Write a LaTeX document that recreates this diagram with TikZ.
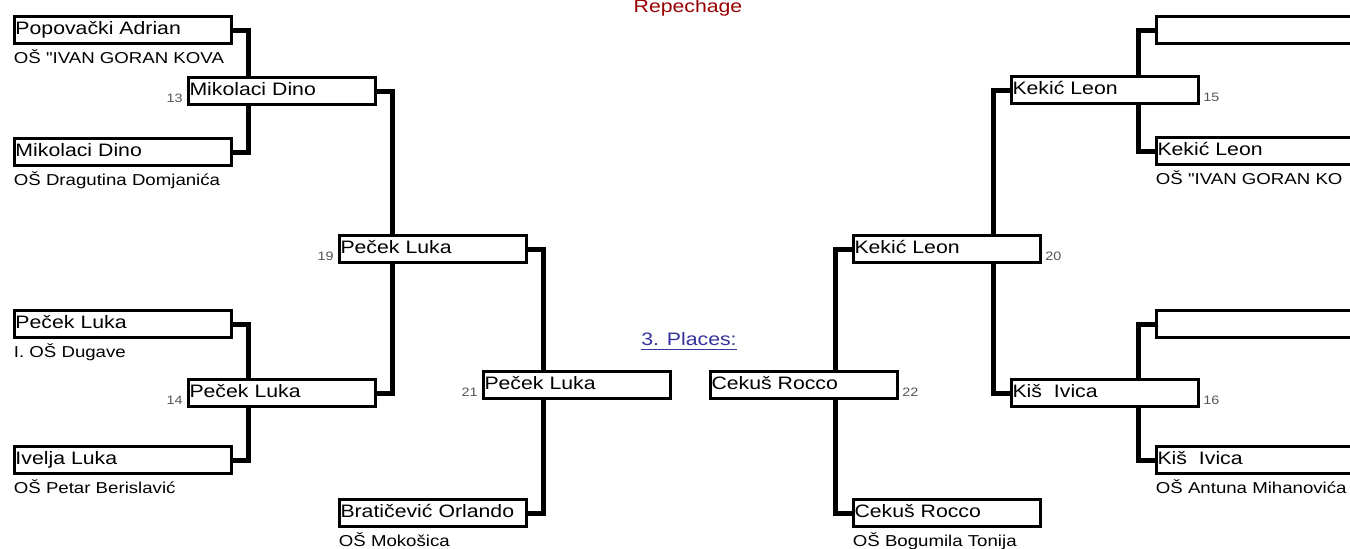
\documentclass[tikz,border=0pt]{standalone}
\usepackage{fontspec}
\setmainfont{Liberation Sans}[FakeStretch=1.18, Ligatures=TeXOff]
\usetikzlibrary{backgrounds}
\definecolor{numgray}{RGB}{85,85,85}
\definecolor{repred}{RGB}{153,0,0}
\definecolor{placeblue}{RGB}{51,51,153}
\tikzset{
	player/.style = {draw, rectangle, line width=1.5pt, fill=white, anchor=north west, inner xsep=0.75pt, inner ysep=0pt, text height=8.75pt, text depth=4.75pt, align=left, font=\fontsize{9}{10}\selectfont},
	wide/.style = {player, text width=107pt},
	narrow/.style = {player, text width=92pt},
	school/.style = {anchor=base west, inner sep=0pt, font=\fontsize{7.9}{9}\selectfont},
	numl/.style = {anchor=base east, inner sep=0pt, text=numgray, font=\fontsize{6.1}{7}\selectfont},
	numr/.style = {anchor=base west, inner sep=0pt, text=numgray, font=\fontsize{6.1}{7}\selectfont},
	link/.style = {line width=2.5pt}
}
\begin{document}
\begin{tikzpicture}[x=0.5pt, y=-0.5pt]
	\useasboundingbox (0,0) rectangle (1350,549);
	\node [anchor=base, inner sep=0pt, text=repred, font=\fontsize{9}{10}\selectfont] (rep) at (688,12.5) {Repechage};
	\node [anchor=base west, inner sep=0pt, text=placeblue, font=\fontsize{9}{10}\selectfont] (places) at (641,346) {\underline{3. Places:}};
	\node [wide] (p1) at (12.5,15.5) {Popovački Adrian};
	\node [wide] (p2) at (12.5,137.5) {Mikolaci Dino};
	\node [wide] (p3) at (12.5,309.5) {Peček Luka};
	\node [wide] (p4) at (12.5,445.5) {Ivelja Luka};
	\node [narrow] (m13) at (186.5,76.5) {Mikolaci Dino};
	\node [narrow] (m14) at (186.5,378.5) {Peček Luka};
	\node [narrow] (m19) at (337.5,234.5) {Peček Luka};
	\node [narrow] (bra) at (337.5,498.5) {Bratičević Orlando};
	\node [narrow] (m21) at (481.5,370.5) {Peček Luka};
	\node [narrow] (m22) at (708.5,370.5) {Cekuš Rocco};
	\node [narrow] (m20) at (851.5,234.5) {Kekić Leon};
	\node [narrow] (cek) at (851.5,498.5) {Cekuš Rocco};
	\node [narrow] (m15) at (1009.5,75.5) {Kekić Leon};
	\node [narrow] (m16) at (1009.5,378.5) {Kiš\ \ Ivica};
	\node [wide] (q1) at (1154.5,15.5) {};
	\node [wide] (q2) at (1154.5,136.5) {Kekić Leon};
	\node [wide] (q3) at (1154.5,309.5) {};
	\node [wide] (q4) at (1154.5,445.5) {Kiš\ \ Ivica};
	\node [school] (s1) at ([xshift=0.5pt, yshift=-9.25pt]p1.south west) {OŠ "IVAN GORAN KOVA};
	\node [school] (s2) at ([xshift=0.5pt, yshift=-9.25pt]p2.south west) {OŠ Dragutina Domjanića};
	\node [school] (s3) at ([xshift=0.5pt, yshift=-9.25pt]p3.south west) {I. OŠ Dugave};
	\node [school] (s4) at ([xshift=0.5pt, yshift=-9.25pt]p4.south west) {OŠ Petar Berislavić};
	\node [school] (sb) at ([xshift=0.5pt, yshift=-9.25pt]bra.south west) {OŠ Mokošica};
	\node [school] (sc) at ([xshift=0.5pt, yshift=-9.25pt]cek.south west) {OŠ Bogumila Tonija};
	\node [school] (t2) at ([xshift=0.5pt, yshift=-9.25pt]q2.south west) {OŠ "IVAN GORAN KO};
	\node [school] (t4) at ([xshift=0.5pt, yshift=-9.25pt]q4.south west) {OŠ Antuna Mihanovića};
	\node [numl] (n13) at ([xshift=-1.75pt, yshift=2pt]m13.south west) {13};
	\node [numl] (n14) at ([xshift=-1.75pt, yshift=2pt]m14.south west) {14};
	\node [numl] (n19) at ([xshift=-1.75pt, yshift=2pt]m19.south west) {19};
	\node [numl] (n21) at ([xshift=-1.75pt, yshift=2pt]m21.south west) {21};
	\node [numr] (n22) at ([xshift=1.75pt, yshift=2pt]m22.south east) {22};
	\node [numr] (n20) at ([xshift=1.75pt, yshift=2pt]m20.south east) {20};
	\node [numr] (n15) at ([xshift=1.75pt, yshift=2pt]m15.south east) {15};
	\node [numr] (n16) at ([xshift=1.75pt, yshift=2pt]m16.south east) {16};
	\begin{scope}[on background layer]
		\draw [link] (p1.east) -- ++(8pt,0) |- (p2.east);
		\draw [link] (p3.east) -- ++(8pt,0) |- (p4.east);
		\draw [link] (m13.east) -- ++(8pt,0) |- (m14.east);
		\draw [link] (m19.east) -- ++(8pt,0) |- (bra.east);
		\draw [link] (m20.west) -- ++(-8pt,0) |- (cek.west);
		\draw [link] (m15.west) -- ++(-8pt,0) |- (m16.west);
		\draw [link] (q1.west) -- ++(-8pt,0) |- (q2.west);
		\draw [link] (q3.west) -- ++(-8pt,0) |- (q4.west);
	\end{scope}
\end{tikzpicture}
\end{document}
